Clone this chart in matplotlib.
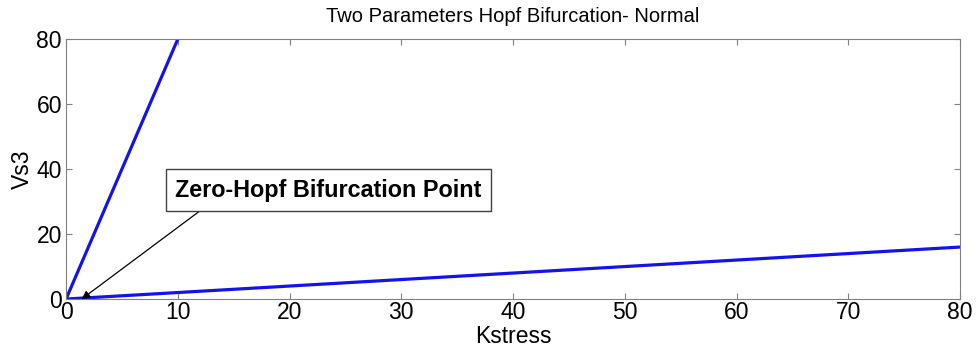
import matplotlib.pyplot as plt

plt.rcParams['font.family'] = ['Liberation Sans', 'DejaVu Sans']

# two branches of the Hopf curve, both starting at the origin
steep_k = [0, 10]
steep_v = [0, 80]
flat_k = [0, 80]
flat_v = [0, 16]

x_ticks = [0, 10, 20, 30, 40, 50, 60, 70, 80]
y_ticks = [0, 20, 40, 60, 80]

zh_point = (1.4, 0)
arrow_tail = (12.2, 27.7)
label_pos = (23.5, 33.5)

fig = plt.figure(figsize=(9.77, 3.56), dpi=100)
ax = fig.add_axes([0.0676, 0.160, 0.915, 0.730])

ax.plot(steep_k, steep_v, color='#1414e6', lw=2.3, solid_capstyle='butt')
ax.plot(flat_k, flat_v, color='#1414e6', lw=2.3, solid_capstyle='butt')

ax.set_xlim(0, 80)
ax.set_ylim(0, 80)
ax.set_xticks(x_ticks)
ax.set_yticks(y_ticks)
ax.tick_params(direction='in', top=True, right=True, labelsize=16.5, length=4,
               color='#808080')
ax.tick_params(axis='x', pad=1.5)
ax.tick_params(axis='y', pad=3)
for s in ax.spines.values():
    s.set_color('#808080')

ax.set_title('Two Parameters Hopf Bifurcation- Normal', fontsize=14.5, pad=12)
ax.set_xlabel('Kstress', fontsize=16.5, labelpad=0.5)
ax.set_ylabel('Vs3', fontsize=16.5, labelpad=2)

ax.annotate('', xy=zh_point, xytext=arrow_tail,
            arrowprops=dict(arrowstyle='-|>', color='black', lw=0.9,
                            mutation_scale=12, shrinkA=0, shrinkB=0))
ax.text(label_pos[0], label_pos[1], 'Zero-Hopf Bifurcation Point',
        fontsize=16.8, fontweight='bold', ha='center', va='center',
        bbox=dict(boxstyle='square,pad=0.4', fc='white', ec='#404040', lw=1))

fig.savefig('out.png', dpi=100)
